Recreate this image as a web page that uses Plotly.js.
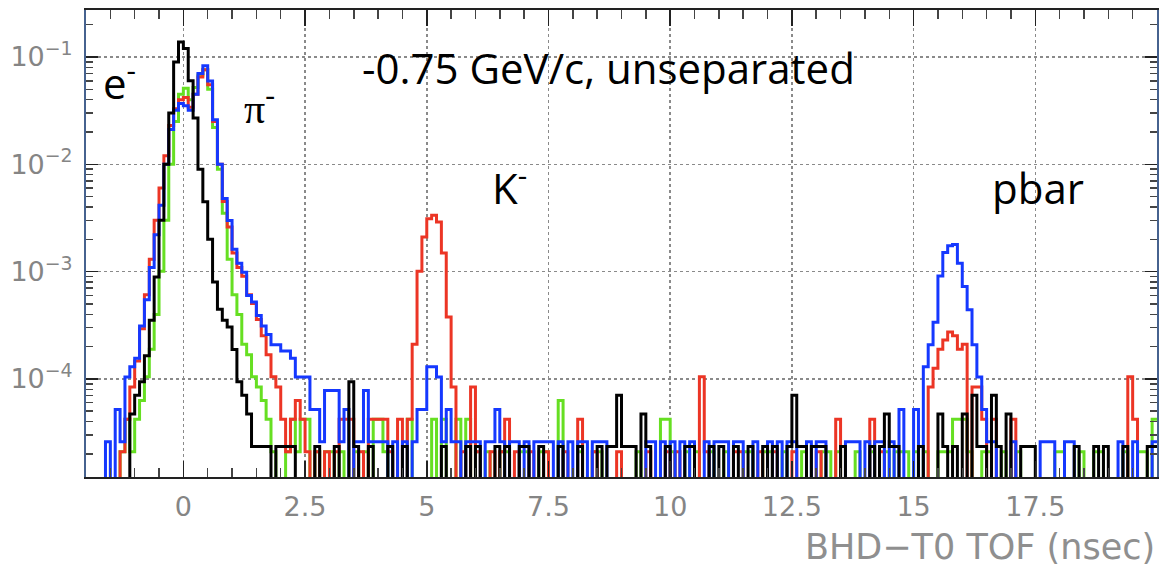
<!DOCTYPE html>
<html>
<head>
<meta charset="utf-8">
<script src="https://cdn.plot.ly/plotly-3.0.1.min.js"></script>
<style>html,body{margin:0;padding:0;background:#fff;}#chart{width:1165px;height:567px;}</style>
</head>
<body>
<div id="chart"></div>
<script>
// Histogram binning: 0.1 ns bins from -2 ns to 20 ns (220 bins)
const BIN_LO = -2.0;
const BIN_W = 0.1;

// Per-count weight (normalised entries per count) read from the single-count levels
const weightBlack = 2.35e-5;
const weightGreen = 2.1e-5;
const weightRed   = 2.1e-5;
const weightBlue  = 2.6e-5;

// Counts per bin (rows of 10 bins = 1 ns, starting at -2 ns)
const countsBlack = [
  0,0,0,0,0,0,0,0,0,2,
  3,4,7,15,38,128,425,1280,3830,5870,
  5100,2550,1150,383,191,85,34,19,15,13,
  8,4,3,2,1,1,1,1,0,1,
  1,1,1,0,0,0,0,1,0,0,
  0,1,0,0,4,1,0,0,1,0,
  0,0,1,0,0,1,0,0,0,0,
  0,0,0,1,0,0,0,0,1,0,
  1,0,0,0,1,0,1,0,0,1,
  1,0,0,1,0,0,0,1,0,0,
  0,1,0,0,0,1,0,1,1,3,
  1,1,1,0,2,1,0,0,0,1,
  0,0,0,1,1,0,0,0,1,0,
  1,0,0,1,0,0,1,0,0,1,
  0,1,0,0,1,3,1,1,0,1,
  1,1,0,0,0,1,0,0,0,0,
  0,1,0,1,2,1,1,0,0,0,
  0,1,0,0,0,2,1,0,1,0,
  2,0,3,1,1,0,3,1,0,2,
  0,0,1,1,1,0,0,0,0,0,
  0,0,0,1,0,0,0,1,0,1,
  0,0,0,1,0,0,0,0,1,1
];
const countsGreen = [
  0,0,0,0,0,0,0,1,2,1,
  2,3,5,9,19,48,143,476,1190,2143,
  2430,1905,2476,3238,3619,2381,1048,429,167,62,
  29,19,10,8,5,4,3,2,1,0,
  0,1,2,1,2,2,0,1,0,1,
  1,0,1,0,0,1,0,1,0,2,
  2,1,0,0,0,0,2,0,0,0,
  0,2,0,2,0,0,2,0,2,0,
  1,0,1,0,0,1,1,0,0,1,
  1,0,0,1,1,0,0,3,0,0,
  0,1,0,0,1,1,0,0,0,0,
  0,0,0,1,0,0,0,0,2,2,
  1,0,0,1,0,1,0,0,1,0,
  0,1,0,0,0,1,1,0,0,1,
  1,0,0,1,0,0,0,1,0,0,
  0,1,1,0,1,0,0,0,1,0,
  0,1,0,0,1,0,1,1,1,0,
  1,0,1,0,0,1,1,1,2,2,
  2,1,0,0,1,1,0,0,1,0,
  0,1,0,0,0,0,0,0,0,1,
  1,0,0,0,1,0,0,1,1,0,
  0,0,0,1,0,0,1,1,0,2
];
const countsRed = [
  0,0,0,0,0,0,0,1,2,4,
  7,14,29,62,143,286,571,1095,1571,1905,
  2000,1619,2143,3095,3619,2619,1190,476,214,124,
  71,52,43,29,24,17,12,8,5,4,
  2,1,2,3,2,1,0,1,0,1,
  0,1,2,2,2,0,1,0,2,2,
  2,2,1,0,2,0,2,10,48,100,
  148,160,138,71,18,4,0,1,0,4,
  1,0,0,1,0,1,2,0,1,0,
  0,1,0,0,1,0,0,0,1,0,
  0,2,0,0,1,0,0,0,0,1,
  0,0,0,0,0,1,0,0,0,1,
  0,1,0,0,0,0,5,1,0,0,
  0,0,0,1,1,0,0,0,1,0,
  0,1,0,0,0,1,0,0,0,0,
  1,0,0,0,2,0,0,0,0,0,
  0,2,0,1,0,0,0,0,0,0,
  0,0,0,4,6,9,11,13,12,9,
  10,0,4,4,2,0,2,0,0,0,
  2,0,0,0,0,0,0,0,0,0,
  0,0,0,0,0,0,0,0,0,0,
  0,0,0,0,5,2,0,0,0,0
];
const countsBlue = [
  0,0,0,0,1,0,2,1,4,5,
  6,12,21,42,85,160,385,810,1230,1420,
  1350,1230,1730,2700,3190,2300,1000,385,185,115,
  62,46,38,23,20,15,12,10,8,8,
  7,7,6,4,4,4,2,2,1,3,
  3,3,1,2,0,1,1,3,1,1,
  1,1,0,1,0,1,0,1,2,2,
  5,5,4,1,2,1,1,0,1,1,
  1,0,1,1,2,1,0,1,1,0,
  1,0,1,1,1,1,0,1,0,1,
  0,1,1,0,1,1,1,0,0,0,
  0,0,0,0,0,1,1,0,1,0,
  1,0,1,0,1,0,0,1,0,1,
  1,1,0,1,1,0,0,1,0,0,
  1,0,1,0,1,1,0,0,1,0,
  1,1,0,0,0,0,1,1,1,0,
  1,0,1,1,0,1,0,2,0,0,
  2,0,5,8,13,35,58,67,69,46,
  28,17,8,4,2,1,1,0,0,0,
  1,0,0,0,0,0,1,1,1,0,
  0,1,1,0,0,0,0,0,0,0,
  0,0,1,0,0,1,0,0,0,1
];

const xTickVals = [0, 2.5, 5, 7.5, 10, 12.5, 15, 17.5, 20];
const xTickText = ['0', '2.5', '5', '7.5', '10', '12.5', '15', '17.5', '20'];
const yTickVals = [1e-1, 1e-2, 1e-3, 1e-4];
const yTickText = ['10<sup>\u22121</sup>', '10<sup>\u22122</sup>', '10<sup>\u22123</sup>', '10<sup>\u22124</sup>'];

const Y_RANGE_LOG = [-4.914, -0.562];
const FLOOR = 1e-5; // empty bins fall just below the axis bottom, as in ROOT log plots

function stepTrace(counts, weight, color) {
  const x = [], y = [];
  for (let i = 0; i < counts.length; i++) {
    x.push(+(BIN_LO + i * BIN_W).toFixed(3));
    y.push(counts[i] > 0 ? counts[i] * weight : FLOOR);
  }
  x.push(+(BIN_LO + counts.length * BIN_W).toFixed(3));
  y.push(y[y.length - 1]);
  return {type: 'scatter', mode: 'lines', x: x, y: y,
          line: {shape: 'hv', color: color, width: 3, simplify: false},
          hoverinfo: 'skip', showlegend: false};
}

const traces = [
  stepTrace(countsGreen, weightGreen, '#66df22'),
  stepTrace(countsRed, weightRed, '#ec3525'),
  stepTrace(countsBlue, weightBlue, '#1538ff'),
  stepTrace(countsBlack, weightBlack, '#000000')
];

const minorY = [];
for (let d = -6; d <= 0; d++) for (let m = 2; m <= 9; m++) minorY.push(m * Math.pow(10, d));

const tickFont = {family: 'DejaVu Sans', size: 27, color: '#858585'};
const annFont = {family: 'Open Sans', size: 42, color: '#000'};

const layout = {
  width: 1165, height: 567,
  margin: {l: 86, r: 8, t: 10, b: 90},
  paper_bgcolor: '#fff', plot_bgcolor: '#fff',
  showlegend: false,
  xaxis: {
    range: [-2, 20], tickmode: 'array', tickvals: xTickVals, ticktext: xTickText,
    ticks: 'inside', ticklen: 16, tickwidth: 1.5, tickcolor: '#222',
    showline: true, linecolor: '#222', linewidth: 2, mirror: 'ticks',
    showgrid: true, gridcolor: '#8a8a8a', griddash: 'dot', gridwidth: 1.5,
    zeroline: false, tickfont: tickFont, ticklabelstandoff: 5,
    minor: {dtick: 0.5, ticks: 'inside', ticklen: 9, tickcolor: '#444', showgrid: false}
  },
  yaxis: {
    type: 'log', range: Y_RANGE_LOG,
    tickmode: 'array', tickvals: yTickVals, ticktext: yTickText,
    ticks: 'inside', ticklen: 12, tickwidth: 1.5, tickcolor: '#222',
    showline: true, linecolor: '#46628f', linewidth: 2, mirror: 'ticks',
    showgrid: true, gridcolor: '#8a8a8a', griddash: 'dot', gridwidth: 1.5,
    zeroline: false, tickfont: tickFont, ticklabelstandoff: 6,
    minor: {tickmode: 'array', tickvals: minorY, ticks: 'inside', ticklen: 7, tickcolor: '#444', showgrid: false}
  },
  annotations: [
    {xref: 'paper', yref: 'paper', x: 1.0, y: -0.149, xanchor: 'right', yanchor: 'middle',
     text: 'BHD\u2212T0 TOF (nsec)', showarrow: false,
     font: {family: 'DejaVu Sans', size: 35, color: '#8f8f8f'}},
    {xref: 'paper', yref: 'paper', x: 0.256, y: 0.876, xanchor: 'left', yanchor: 'middle',
     text: '-0.75 GeV/c, unseparated', showarrow: false, font: annFont},
    {xref: 'paper', yref: 'paper', x: 0.014, y: 0.85, xanchor: 'left', yanchor: 'middle',
     text: 'e<sup>-</sup>', showarrow: false, font: annFont},
    {xref: 'paper', yref: 'paper', x: 0.146, y: 0.795, xanchor: 'left', yanchor: 'middle',
     text: '\u03c0<sup>-</sup>', showarrow: false, font: {family: 'Liberation Serif', size: 42, color: '#000'}},
    {xref: 'paper', yref: 'paper', x: 0.377, y: 0.625, xanchor: 'left', yanchor: 'middle',
     text: 'K<sup>-</sup>', showarrow: false, font: annFont},
    {xref: 'paper', yref: 'paper', x: 0.844, y: 0.619, xanchor: 'left', yanchor: 'middle',
     text: 'pbar', showarrow: false, font: annFont}
  ]
};

Plotly.newPlot('chart', traces, layout, {displayModeBar: false, staticPlot: true});
</script>
</body>
</html>
